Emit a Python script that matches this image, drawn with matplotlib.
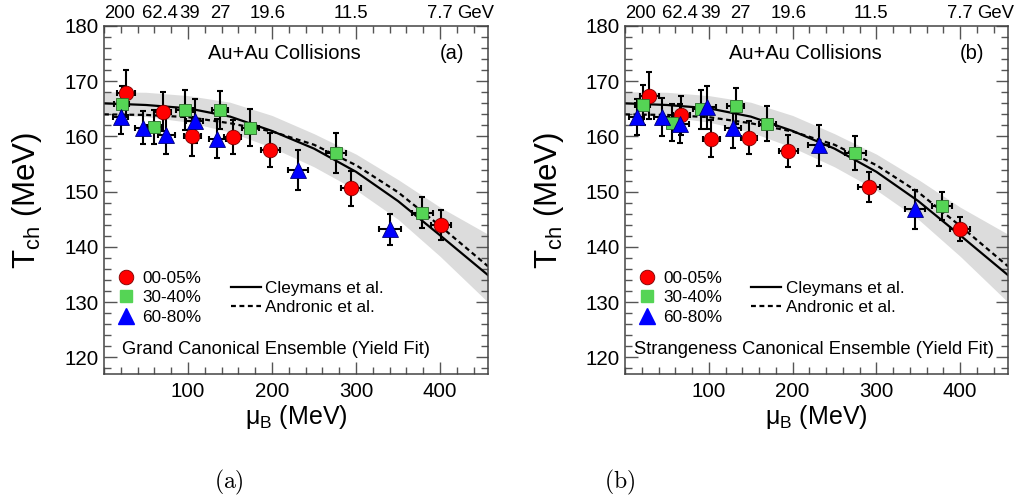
import numpy as np
import matplotlib
matplotlib.use("Agg")
import matplotlib.pyplot as plt
from matplotlib.lines import Line2D
from matplotlib.ticker import MultipleLocator

plt.rcParams['font.family'] = ['Liberation Sans', 'DejaVu Sans']
plt.rcParams['mathtext.fontset'] = 'custom'
plt.rcParams['mathtext.rm'] = 'Liberation Sans'
plt.rcParams['mathtext.it'] = 'Liberation Sans:italic'
plt.rcParams['mathtext.bf'] = 'Liberation Sans:bold'

# theory curves and band
mu_curve = [0, 50, 100, 150, 200, 250, 300, 350, 400, 457]
T_cleymans = [166.0, 165.7, 165.1, 163.6, 161.0, 157.8, 153.6, 148.3, 142.1, 134.9]
T_andronic = [164.0, 163.9, 163.5, 162.4, 160.9, 158.5, 154.8, 149.9, 143.8, 136.5]
band_upper = [168.1, 168.0, 167.4, 166.2, 163.8, 160.5, 156.8, 152.2, 147.2, 142.3]
band_lower = [164.0, 163.6, 162.6, 160.8, 158.0, 154.5, 150.3, 145.0, 138.3, 130.0]

# beam energies on top axis
energy_labels = ["200", "62.4", "39", "27", "19.6", "11.5", "7.7"]
energy_mu = [18, 66, 102, 138, 195, 294, 400]

# panel (a): grand canonical ensemble
mu_red_a = [26, 70, 105, 153, 198, 294, 401]
T_red_a = [167.8, 164.5, 160.0, 159.9, 157.5, 150.6, 143.9]
dT_red_a = [4.2, 3.5, 3.6, 3.1, 3.1, 3.1, 2.7]
dmu_red_a = [11, 10, 10, 10, 11, 12, 12]

mu_green_a = [21, 60, 96, 138, 174, 276, 379]
T_green_a = [165.8, 161.7, 164.8, 164.8, 161.6, 157.0, 146.2]
dT_green_a = [3.3, 3.1, 3.6, 3.4, 3.4, 3.6, 2.8]
dmu_green_a = [9, 9, 10, 10, 10, 12, 12]

mu_blue_a = [20, 46, 74, 108, 135, 231, 340]
T_blue_a = [163.5, 161.6, 160.2, 162.8, 159.6, 154.0, 143.2]
dT_blue_a = [3.1, 3.0, 3.3, 4.0, 3.5, 3.6, 2.8]
dmu_blue_a = [9, 9, 10, 10, 10, 12, 13]

# panel (b): strangeness canonical ensemble
mu_red_b = [29, 67, 103, 148, 195, 291, 400]
T_red_b = [167.4, 163.8, 159.6, 159.8, 157.4, 150.8, 143.3]
dT_red_b = [4.3, 3.6, 3.3, 3.0, 2.9, 2.7, 2.2]
dmu_red_b = [11, 10, 10, 10, 11, 13, 12]

mu_green_b = [21, 56, 91, 132, 170, 275, 378]
T_green_b = [165.7, 162.5, 164.9, 165.5, 162.3, 157.0, 147.4]
dT_green_b = [3.6, 3.3, 3.6, 3.2, 3.2, 3.0, 2.5]
dmu_green_b = [9, 9, 10, 10, 10, 12, 12]

mu_blue_b = [14, 44, 66, 98, 129, 231, 346]
T_blue_b = [163.5, 163.5, 162.3, 165.3, 161.5, 158.4, 146.8]
dT_blue_b = [3.3, 3.4, 3.5, 3.9, 3.6, 3.7, 3.5]
dmu_blue_b = [9, 9, 10, 10, 10, 13, 12]

legend_labels = ["00-05%", "30-40%", "60-80%"]
RED, GREEN, BLUE = "#ff0000", "#55d455", "#0000ff"


def draw_panel(ax, data, tag, ensemble, ens_x):
    ax.fill_between(mu_curve, band_lower, band_upper, color="#dcdcdc", lw=0, zorder=1)
    ax.plot(mu_curve, T_cleymans, color="black", lw=1.6, zorder=2)
    ax.plot(mu_curve, T_andronic, color="black", lw=1.6, ls=(0, (2.2, 1.6)), zorder=2)

    styles = [(RED, "o", 10.5, "#7a0000"), (GREEN, "s", 8.5, "#2a6a2a"), (BLUE, "^", 11.5, "#00007a")]
    for (mu, T, dT, dmu), (col, mk, ms, ec) in zip(data, styles):
        ax.errorbar(mu, T, yerr=dT, xerr=dmu, fmt="none", ecolor="black",
                    elinewidth=1.5, capsize=2.5, capthick=1.5, zorder=3)
        ax.plot(mu, T, ls="none", marker=mk, ms=ms, color=col, mec=ec, mew=0.6, zorder=4)

    ax.set_xlim(0, 457)
    ax.set_ylim(117, 180)
    ax.set_xticks([100, 200, 300, 400])
    ax.set_yticks([120, 130, 140, 150, 160, 170, 180])
    ax.xaxis.set_minor_locator(MultipleLocator(20))
    ax.yaxis.set_minor_locator(MultipleLocator(2))
    ax.tick_params(which="both", direction="in", top=True, right=True,
                   color="#555555", labelsize=14.8)
    ax.tick_params(which="major", length=9, width=1)
    ax.tick_params(which="minor", length=5, width=1)
    ax.tick_params(axis="x", pad=6)
    for s in ax.spines.values():
        s.set_color("#444444")
        s.set_linewidth(1.1)

    ax.set_xlabel("μ$_{\\rm B}$ (MeV)", fontsize=18, labelpad=1)
    ax.set_ylabel("T$_{\\rm ch}$ (MeV)", fontsize=22.5)
    ax.yaxis.set_label_coords(-0.155, 0.5)

    for lab, m in zip(energy_labels, energy_mu):
        ax.text(m, 1.037, lab, transform=ax.get_xaxis_transform(),
                ha="center", va="center", fontsize=13.3)
    ax.text(energy_mu[-1] + 20, 1.037, "GeV", transform=ax.get_xaxis_transform(),
            ha="left", va="center", fontsize=13.3)

    ax.text(0.47, 0.92, "Au+Au Collisions", transform=ax.transAxes,
            ha="center", va="center", fontsize=14.5)
    ax.text(0.905, 0.92, tag, transform=ax.transAxes,
            ha="center", va="center", fontsize=14.5)
    ax.text(ens_x, 0.069, ensemble, transform=ax.transAxes,
            ha="left", va="center", fontsize=13.2)

    h1 = [Line2D([], [], ls="none", marker="o", ms=10.5, color=RED, mec="#7a0000", mew=0.6),
          Line2D([], [], ls="none", marker="s", ms=8, color=GREEN, mec=GREEN),
          Line2D([], [], ls="none", marker="^", ms=11.5, color=BLUE, mec=BLUE)]
    leg1 = ax.legend(h1, legend_labels, loc="upper left", bbox_to_anchor=(0.035, 0.297),
                     frameon=False, fontsize=12.3, handlelength=1.0, handletextpad=0.45,
                     labelspacing=0.28, borderpad=0, borderaxespad=0)
    ax.add_artist(leg1)
    h2 = [Line2D([], [], color="black", lw=1.6),
          Line2D([], [], color="black", lw=1.6, ls=(0, (2.2, 1.6)))]
    ax.legend(h2, ["Cleymans et al.", "Andronic et al."], loc="upper left",
              bbox_to_anchor=(0.33, 0.268), frameon=False, fontsize=12.3,
              handlelength=1.75, handletextpad=0.25, labelspacing=0.26,
              borderpad=0, borderaxespad=0)


fig = plt.figure(figsize=(10.19, 4.99), dpi=100)
ax_a = fig.add_axes([104 / 1019, 1 - 374 / 499, 384 / 1019, 348 / 499])
ax_b = fig.add_axes([625 / 1019, 1 - 374 / 499, 383 / 1019, 348 / 499])

data_a = [(mu_red_a, T_red_a, dT_red_a, dmu_red_a),
          (mu_green_a, T_green_a, dT_green_a, dmu_green_a),
          (mu_blue_a, T_blue_a, dT_blue_a, dmu_blue_a)]
data_b = [(mu_red_b, T_red_b, dT_red_b, dmu_red_b),
          (mu_green_b, T_green_b, dT_green_b, dmu_green_b),
          (mu_blue_b, T_blue_b, dT_blue_b, dmu_blue_b)]

draw_panel(ax_a, data_a, "(a)", "Grand Canonical Ensemble (Yield Fit)", 0.047)
draw_panel(ax_b, data_b, "(b)", "Strangeness Canonical Ensemble (Yield Fit)", 0.023)

fig.text(229 / 1019, 1 - 482 / 499, r"$\mathrm{(a)}$", ha="center", va="center",
         fontsize=17, math_fontfamily="cm")
fig.text(619.5 / 1019, 1 - 482 / 499, r"$\mathrm{(b)}$", ha="center", va="center",
         fontsize=17, math_fontfamily="cm")

fig.savefig("out.png", dpi=100)
